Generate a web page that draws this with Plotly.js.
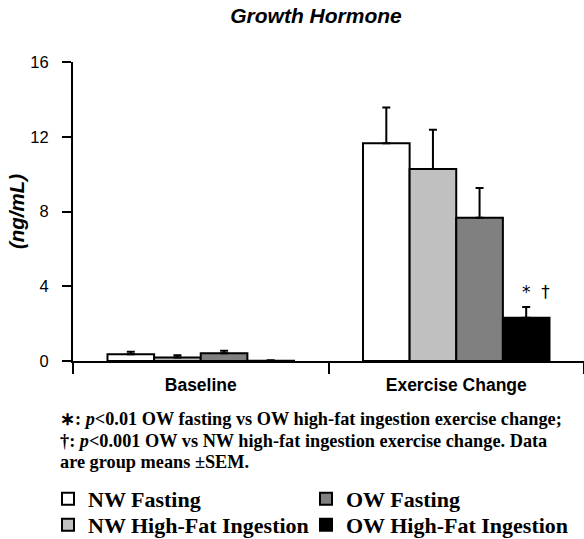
<!DOCTYPE html>
<html>
<head>
<meta charset="utf-8">
<script src="https://cdn.plot.ly/plotly-3.0.1.min.js"></script>
<style>
  html, body { margin: 0; padding: 0; background: #ffffff; }
  #chart { width: 584px; height: 539px; }
</style>
</head>
<body>
<div id="chart"></div>
<script>
// Growth hormone, baseline and exercise change, by group (mean and SEM, ng/mL)
const categories = ['Baseline', 'Exercise Change'];
const groupNames = ['NW Fasting', 'NW High-Fat Ingestion', 'OW Fasting', 'OW High-Fat Ingestion'];

const nwFasting = [0.36, 11.65];
const nwFastingSem = [0.14, 1.92];
const nwHighFat = [0.19, 10.27];
const nwHighFatSem = [0.12, 2.11];
const owFasting = [0.41, 7.67];
const owFastingSem = [0.14, 1.59];
const owHighFat = [0.01, 2.32];
const owHighFatSem = [0.03, 0.57];

const yTickValues = [0, 4, 8, 12, 16];
const significanceLabel = '*\u00a0\u00a0\u2020';

const footnoteLines = [
  '\u2217: <i>p</i>&lt;0.01 OW fasting vs OW high-fat ingestion exercise change;',
  '\u2020: <i>p</i>&lt;0.001 OW vs NW high-fat ingestion exercise change. Data',
  'are group means \u00b1SEM.'
];

const fills = ['#ffffff', '#c0c0c0', '#808080', '#000000'];
// one key box per group: NW groups in the left column, OW groups in the right one
const legendSlot = ['legend', 'legend3', 'legend2', 'legend4'];
const seriesValues = [nwFasting, nwHighFat, owFasting, owHighFat];
const seriesSem = [nwFastingSem, nwHighFatSem, owFastingSem, owHighFatSem];

const sans = 'Liberation Sans, Arial, Helvetica, sans-serif';
const serif = 'Liberation Serif, Times New Roman, serif';

const traces = groupNames.map((name, i) => ({
  type: 'bar',
  name: name,
  x: categories,
  y: seriesValues[i],
  legend: legendSlot[i],
  marker: { color: fills[i], line: { color: '#000000', width: 2 } },
  error_y: {
    type: 'data',
    symmetric: false,
    array: seriesSem[i],
    arrayminus: seriesSem[i].map(() => 0),
    color: '#000000',
    thickness: 2,
    width: 4
  },
  hoverinfo: 'skip'
}));

const W = 584, H = 539;
const margin = { l: 73, r: 0, t: 62, b: 178, autoexpand: false };
const plotWidth = W - margin.l - margin.r;
const plotHeight = H - margin.t - margin.b;
const bargap = 0.27;
const barWidthPx = plotWidth / categories.length * (1 - bargap) / groupNames.length;

// page pixel -> paper coordinate helpers for the notes and legends below the axis
const px2x = px => (px - margin.l) / plotWidth;
const py2y = py => (H - margin.b - py) / plotHeight;

const annotations = [
  {
    x: categories[1], xref: 'x',
    y: owHighFat[1] + owHighFatSem[1], yref: 'y',
    xshift: barWidthPx * 1.5 + 10, yshift: 3,
    yanchor: 'bottom', xanchor: 'center',
    text: significanceLabel, showarrow: false,
    font: { family: 'DejaVu Sans, Liberation Sans, sans-serif', size: 17, color: '#000000' }
  }
].concat(footnoteLines.map((t, i) => ({
  x: px2x(58), xref: 'paper', xanchor: 'left',
  y: py2y(419 + i * 21.5), yref: 'paper', yanchor: 'middle',
  text: '<b>' + t + '</b>', showarrow: false, align: 'left',
  font: { family: serif, size: 18.3, color: '#000000' }
})));

const legendStyle = {
  orientation: 'v',
  yanchor: 'top',
  xref: 'paper', yref: 'paper', xanchor: 'left',
  font: { family: serif, size: 22, color: '#000000', weight: 'bold' },
  bgcolor: 'rgba(0,0,0,0)',
  borderwidth: 0
};
const legendCols = [px2x(48), px2x(306)];
const legendRows = [py2y(478), py2y(504)];

const layout = {
  width: W,
  height: H,
  margin: margin,
  paper_bgcolor: '#ffffff',
  plot_bgcolor: '#ffffff',
  barmode: 'group',
  bargap: bargap,
  bargroupgap: 0,
  title: {
    text: '<b><i>Growth Hormone</i></b>',
    font: { family: sans, size: 21, color: '#000000' },
    xref: 'container', x: 316 / W, xanchor: 'center',
    yref: 'container', y: 1 - 16 / H, yanchor: 'middle'
  },
  xaxis: {
    type: 'category',
    range: [-0.5, 1.5],
    tickson: 'boundaries',
    ticks: 'outside',
    ticklen: 11,
    tickwidth: 2,
    tickcolor: '#000000',
    ticklabelstandoff: 7,
    showline: true,
    linecolor: '#000000',
    linewidth: 2,
    showgrid: false,
    zeroline: false,
    tickfont: { family: sans, size: 17.5, color: '#000000', weight: 'bold' },
    fixedrange: true
  },
  yaxis: {
    range: [0, 16],
    tickvals: yTickValues,
    ticktext: yTickValues.map(String),
    ticks: 'outside',
    ticklen: 9,
    tickwidth: 2,
    tickcolor: '#000000',
    ticklabelstandoff: 10,
    showline: true,
    linecolor: '#000000',
    linewidth: 2,
    showgrid: false,
    zeroline: false,
    tickfont: { family: sans, size: 16.5, color: '#000000' },
    title: {
      text: '<b><i>(ng/mL)</i></b>',
      font: { family: sans, size: 20.5, color: '#000000' },
      standoff: 0
    },
    fixedrange: true
  },
  showlegend: true,
  legend: Object.assign({}, legendStyle, { x: legendCols[0], y: legendRows[0] }),
  legend2: Object.assign({}, legendStyle, { x: legendCols[1], y: legendRows[0] }),
  legend3: Object.assign({}, legendStyle, { x: legendCols[0], y: legendRows[1] }),
  legend4: Object.assign({}, legendStyle, { x: legendCols[1], y: legendRows[1] }),
  annotations: annotations
};

Plotly.newPlot('chart', traces, layout, { displayModeBar: false, staticPlot: true });
</script>
</body>
</html>
